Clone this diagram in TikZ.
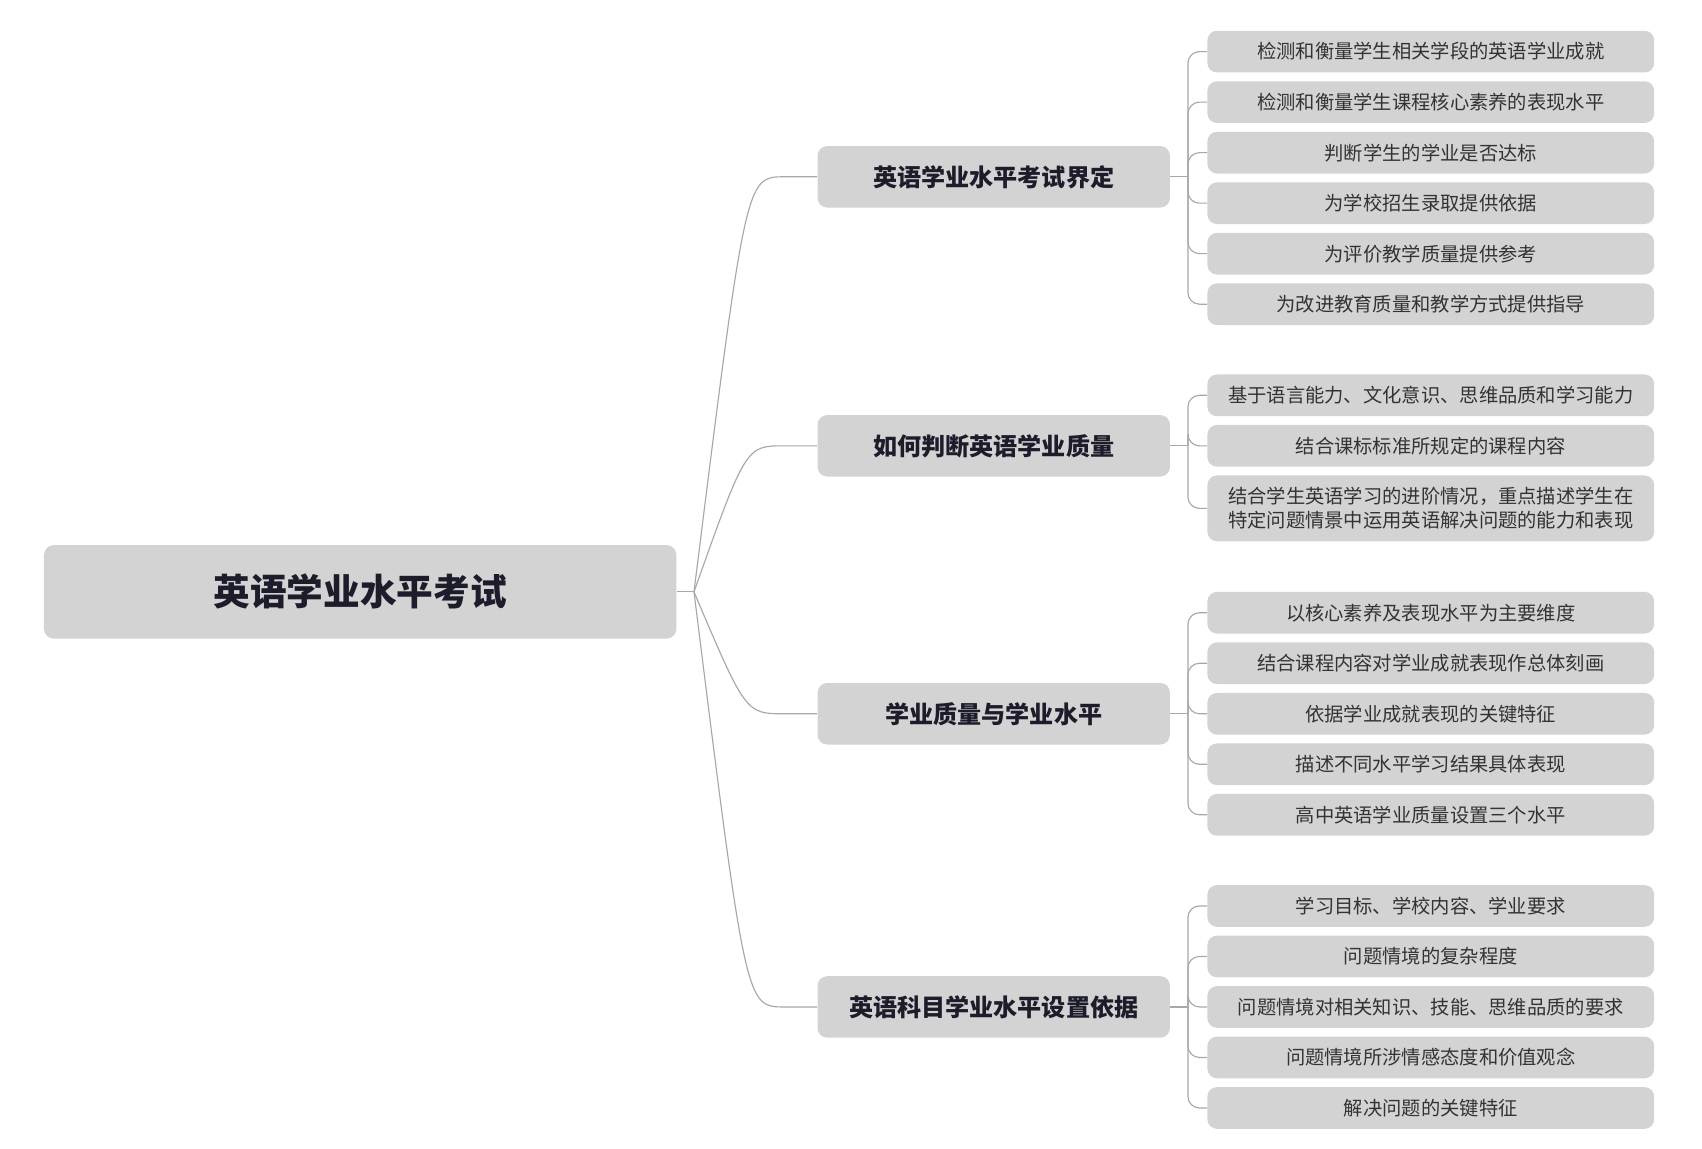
\documentclass[tikz,border=0pt]{standalone}
\usepackage{fontspec}
\setmainfont{Noto Sans CJK SC}
\usetikzlibrary{positioning}
\definecolor{boxgrey}{HTML}{D3D3D3}
\definecolor{linegrey}{HTML}{A8A8A8}
\definecolor{inkdark}{HTML}{1C1C2A}
\tikzset{
  rootbox/.style={rectangle, fill=boxgrey, rounded corners=5pt, minimum width=11.52cm, minimum height=1.7cm, font=\fontsize{19}{22}\selectfont\bfseries, text=inkdark},
  midbox/.style={rectangle, fill=boxgrey, rounded corners=5pt, minimum width=6.42cm, minimum height=1.12cm, font=\fontsize{12.5}{15}\selectfont\bfseries, text=inkdark},
  leafbox/.style={rectangle, fill=boxgrey, rounded corners=5pt, minimum width=8.14cm, minimum height=0.76cm, font=\fontsize{10}{12.5}\selectfont, text=black!80, align=center},
  link/.style={draw=linegrey, line width=0.6pt}
}
\begin{document}
\begin{tikzpicture}[x=0.02cm, y=-0.02cm]
\useasboundingbox (0,0) rectangle (1550,1046);
% Place nodes
\node [rootbox] (root) at (328,539) {英语学业水平考试};
\node [midbox] (m1) at (905,161) {英语学业水平考试界定};
\node [midbox] (m2) at (905,406) {如何判断英语学业质量};
\node [midbox] (m3) at (905,650) {学业质量与学业水平};
\node [midbox] (m4) at (905,917) {英语科目学业水平设置依据};
% leaves
\node [leafbox] (a1) at (1303,47) {检测和衡量学生相关学段的英语学业成就};
\node [leafbox] (a2) at (1303,93) {检测和衡量学生课程核心素养的表现水平};
\node [leafbox] (a3) at (1303,139) {判断学生的学业是否达标};
\node [leafbox] (a4) at (1303,185) {为学校招生录取提供依据};
\node [leafbox] (a5) at (1303,231) {为评价教学质量提供参考};
\node [leafbox] (a6) at (1303,277) {为改进教育质量和教学方式提供指导};
\node [leafbox] (b1) at (1303,360) {基于语言能力、文化意识、思维品质和学习能力};
\node [leafbox] (b2) at (1303,406) {结合课标标准所规定的课程内容};
\node [leafbox, minimum height=1.2cm] (b3) at (1303,463) {结合学生英语学习的进阶情况，重点描述学生在\\特定问题情景中运用英语解决问题的能力和表现};
\node [leafbox] (c1) at (1303,558) {以核心素养及表现水平为主要维度};
\node [leafbox] (c2) at (1303,604) {结合课程内容对学业成就表现作总体刻画};
\node [leafbox] (c3) at (1303,650) {依据学业成就表现的关键特征};
\node [leafbox] (c4) at (1303,696) {描述不同水平学习结果具体表现};
\node [leafbox] (c5) at (1303,742) {高中英语学业质量设置三个水平};
\node [leafbox] (d1) at (1303,825) {学习目标、学校内容、学业要求};
\node [leafbox] (d2) at (1303,871) {问题情境的复杂程度};
\node [leafbox] (d3) at (1303,917) {问题情境对相关知识、技能、思维品质的要求};
\node [leafbox] (d4) at (1303,963) {问题情境所涉情感态度和价值观念};
\node [leafbox] (d5) at (1303,1009) {解决问题的关键特征};
% Draw edges
\coordinate (rb) at (632,539);
\draw [link] (root.east) -- (rb);
\foreach \m in {m1,m2,m3,m4}
  \draw [link] (rb) .. controls ([xshift=-1.3cm]\m.west) .. ([xshift=-0.6cm]\m.west) -- (\m.west);
\foreach \m/\leaves in {m1/{a1,a2,a3,a4,a5,a6}, m2/{b1,b2,b3}, m3/{c1,c2,c3,c4,c5}, m4/{d1,d2,d3,d4,d5}} {
  \coordinate (\m b) at ([xshift=0.32cm]\m.east);
  \draw [link] (\m.east) -- (\m b);
  \foreach \l in \leaves
    \draw [link, rounded corners=6pt] (\m b) |- (\l.west);
}
\end{tikzpicture}
\end{document}
